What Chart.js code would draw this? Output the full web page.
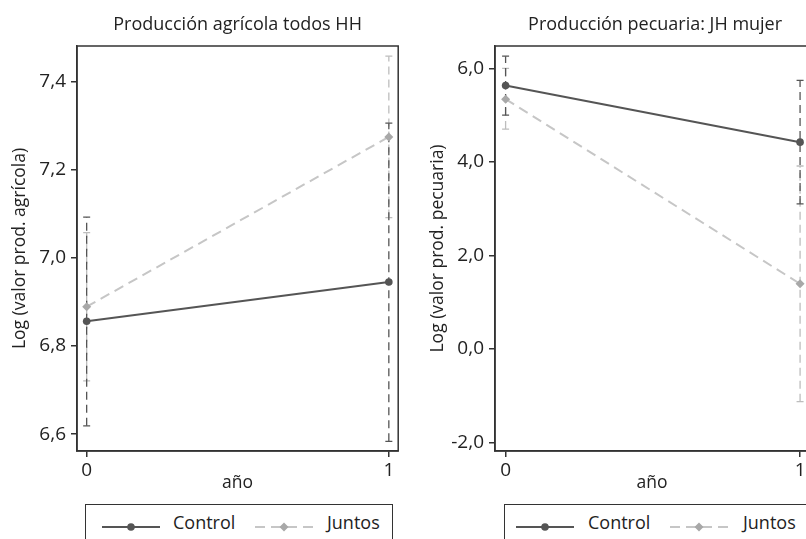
<!DOCTYPE html>
<html><head><meta charset="utf-8">
<script src="https://cdn.jsdelivr.net/npm/chart.js@4"></script>
<style>
html,body{margin:0;padding:0;background:#fff;}
body{width:806px;height:539px;overflow:hidden;position:relative;font-family:'Open Sans',sans-serif;color:#222;}
canvas{position:absolute;top:0;}
.legend{position:absolute;top:504px;height:42px;width:308px;border:1.5px solid #333;box-sizing:border-box;background:#fff;}
.legend .sym{position:absolute;top:11px;}
.legend .lab{position:absolute;top:5px;font-size:18px;line-height:24px;color:#222;white-space:nowrap;}
</style>
</head><body>
<canvas id="c1"></canvas>
<canvas id="c2"></canvas>
<div class="legend" id="lg1" style="left:85px"></div>
<div class="legend" id="lg2" style="left:504px"></div>
<script>
// ---------- data ----------
const years = [0, 1];
const seriesNames = ['Control', 'Juntos'];
const xAxisTitle = 'año';
const panelTitles = ['Producción agrícola todos HH', 'Producción pecuaria: JH mujer'];
const yAxisTitles = ['Log (valor prod. agrícola)', 'Log (valor prod. pecuaria)'];

const agriControl   = [6.856, 6.945];
const agriControlLo = [6.619, 6.584];
const agriControlHi = [7.092, 7.305];
const agriJuntos    = [6.889, 7.274];
const agriJuntosLo  = [6.721, 7.091];
const agriJuntosHi  = [7.057, 7.457];
const agriTicks     = [6.6, 6.8, 7.0, 7.2, 7.4];

const pecControl   = [5.63, 4.42];
const pecControlLo = [5.00, 3.10];
const pecControlHi = [6.26, 5.74];
const pecJuntos    = [5.34, 1.39];
const pecJuntosLo  = [4.70, -1.13];
const pecJuntosHi  = [6.00, 3.91];
const pecTicks     = [-2, 0, 2, 4, 6];

// ---------- styles ----------
const FONT = "'Open Sans', sans-serif";
const DARK = '#555555';
const LIGHTLINE = '#c6c6c6';
const LIGHTMARK = '#a8a8a8';
const LIGHTBAR = '#bdbdbd';
const AXIS = '#333333';
const TEXT = '#222222';

const titlePlugin = {
  id: 'panelTitle',
  afterDraw(chart, args, opts) {
    const ctx = chart.ctx, a = chart.chartArea;
    ctx.save();
    ctx.font = '18px ' + FONT;
    ctx.fillStyle = TEXT;
    ctx.textAlign = 'center';
    ctx.textBaseline = 'middle';
    ctx.fillText(opts.text, (a.left + a.right) / 2 + opts.dx, 25);
    ctx.restore();
  }
};
const boxPlugin = {
  id: 'plotBox',
  beforeDatasetsDraw(chart) {
    const ctx = chart.ctx, a = chart.chartArea;
    ctx.save();
    ctx.strokeStyle = AXIS;
    ctx.lineWidth = 1.5;
    ctx.strokeRect(a.left, a.top, a.right - a.left, a.bottom - a.top);
    ctx.restore();
  }
};

function fmt(v) { return v.toFixed(1).replace('.', ','); }

function errorBarSets(lo, hi, color) {
  return years.map((yr, i) => ({
    data: [{x: yr, y: lo[i]}, {x: yr, y: hi[i]}],
    borderColor: color, borderWidth: 1.3, borderDash: [8, 5],
    pointStyle: 'line', pointRadius: 3.5, pointBorderColor: color, pointBorderWidth: 1.3,
    pointHoverRadius: 3.5, fill: false
  }));
}

function makeChart(id, leftPx, widthPx, cfg) {
  const cv = document.getElementById(id);
  cv.style.left = leftPx + 'px';
  cv.width = widthPx; cv.height = 500;
  cv.style.width = widthPx + 'px'; cv.style.height = '500px';
  const ctrl = years.map((x, i) => ({x, y: cfg.control[i]}));
  const junt = years.map((x, i) => ({x, y: cfg.juntos[i]}));
  new Chart(cv, {
    type: 'line',
    data: {
      datasets: [
        { label: seriesNames[0], data: ctrl, borderColor: DARK, borderWidth: 2,
          pointStyle: 'circle', pointRadius: 3.8, pointBackgroundColor: DARK, pointBorderColor: DARK, pointBorderWidth: 0 },
        { label: seriesNames[1], data: junt, borderColor: LIGHTLINE, borderWidth: 2, borderDash: [10, 6],
          pointStyle: 'rectRot', pointRadius: 4.5, pointBackgroundColor: LIGHTMARK, pointBorderColor: LIGHTMARK, pointBorderWidth: 0 },
        ...errorBarSets(cfg.controlLo, cfg.controlHi, DARK),
        ...errorBarSets(cfg.juntosLo, cfg.juntosHi, LIGHTBAR)
      ]
    },
    options: {
      responsive: false, animation: false,
      layout: { padding: { top: 46, right: 3, left: 0, bottom: 0 } },
      plugins: { legend: { display: false }, tooltip: { enabled: false }, panelTitle: { text: cfg.title, dx: cfg.titleDx } },
      elements: { line: { tension: 0 } },
      scales: {
        x: {
          type: 'linear', min: cfg.xmin, max: cfg.xmax,
          afterBuildTicks: s => { s.ticks = years.map(v => ({ value: v })); },
          afterFit: s => { s.height = 49; },
          ticks: { callback: v => String(v), font: { family: FONT, size: 19 }, color: TEXT, padding: 2, maxRotation: 0 },
          grid: { drawOnChartArea: false, drawTicks: true, tickLength: 6, color: AXIS, lineWidth: 1.5 },
          border: { display: true, color: AXIS, width: 1.5 },
          title: { display: true, text: xAxisTitle, color: TEXT, font: { family: FONT, size: 17.5 }, padding: { top: 0, bottom: 6 } }
        },
        y: {
          type: 'linear', min: cfg.ymin, max: cfg.ymax,
          afterBuildTicks: s => { s.ticks = cfg.ticks.map(v => ({ value: v })); },
          afterFit: s => { s.width = 77; },
          ticks: { callback: v => fmt(v), font: { family: FONT, size: 19 }, color: TEXT, padding: 5 },
          grid: { drawOnChartArea: false, drawTicks: true, tickLength: 6, color: AXIS, lineWidth: 1.5 },
          border: { display: true, color: AXIS, width: 1.5 },
          title: { display: true, text: cfg.ytitle, color: TEXT, font: { family: FONT, size: 17.5 }, padding: { top: 10, bottom: 0 } }
        }
      }
    },
    plugins: [boxPlugin, titlePlugin]
  });
}

makeChart('c1', 0, 403, {
  title: panelTitles[0], ytitle: yAxisTitles[0], titleDx: 0,
  control: agriControl, controlLo: agriControlLo, controlHi: agriControlHi,
  juntos: agriJuntos, juntosLo: agriJuntosLo, juntosHi: agriJuntosHi,
  ticks: agriTicks, ymin: 6.562, ymax: 7.480, xmin: -0.032, xmax: 1.031
});
makeChart('c2', 418, 396, {
  title: panelTitles[1], ytitle: yAxisTitles[1], titleDx: 3,
  control: pecControl, controlLo: pecControlLo, controlHi: pecControlHi,
  juntos: pecJuntos, juntosLo: pecJuntosLo, juntosHi: pecJuntosHi,
  ticks: pecTicks, ymin: -2.186, ymax: 6.477, xmin: -0.036, xmax: 1.031
});

// ---------- legends (HTML, real text) ----------
function symSvg(solid) {
  if (solid) {
    return '<svg width="58" height="12"><line x1="0" y1="6" x2="58" y2="6" stroke="' + DARK + '" stroke-width="2"/>' +
      '<circle cx="29" cy="6" r="3.8" fill="' + DARK + '"/></svg>';
  }
  return '<svg width="58" height="12"><line x1="0" y1="6" x2="58" y2="6" stroke="' + LIGHTLINE + '" stroke-width="2" stroke-dasharray="10 6"/>' +
    '<polygon points="29,1.5 33.5,6 29,10.5 24.5,6" fill="' + LIGHTMARK + '"/></svg>';
}
function buildLegend(id, pos) {
  const el = document.getElementById(id);
  el.innerHTML =
    '<span class="sym" style="left:' + pos[0] + 'px">' + symSvg(true) + '</span>' +
    '<span class="lab" style="left:' + pos[1] + 'px">' + seriesNames[0] + '</span>' +
    '<span class="sym" style="left:' + pos[2] + 'px">' + symSvg(false) + '</span>' +
    '<span class="lab" style="left:' + pos[3] + 'px">' + seriesNames[1] + '</span>';
}
buildLegend('lg1', [16, 87, 169, 241]);
buildLegend('lg2', [11, 83, 165, 238]);
</script>
</body></html>
